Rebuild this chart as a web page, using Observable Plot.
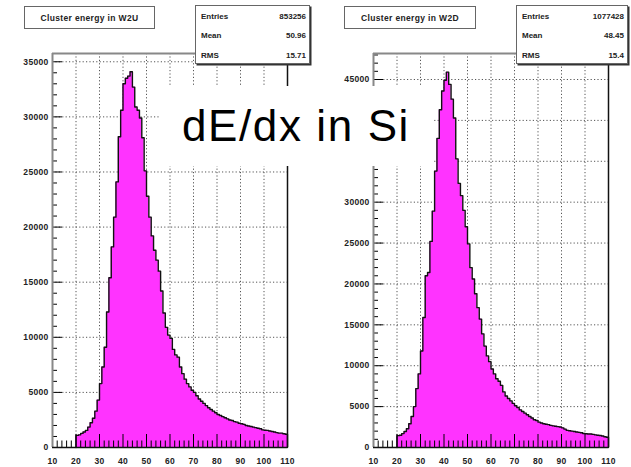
<!DOCTYPE html>
<html><head><meta charset="utf-8">
<script src="https://cdn.jsdelivr.net/npm/d3@7"></script>
<script src="https://cdn.jsdelivr.net/npm/@observablehq/plot@0.6"></script>
<style>
body{margin:0;background:#fff;}
#wrap{position:relative;width:631px;height:467px;overflow:hidden;font-family:"Liberation Sans",Arial,Helvetica,sans-serif;}
.panel{position:absolute;top:0;}
.tbox{position:absolute;background:#fff;border:1.5px solid #666;box-sizing:border-box;font-weight:bold;font-size:8.5px;color:#222;display:flex;align-items:center;justify-content:center;letter-spacing:.35px;}
.sbox{position:absolute;background:#fff;border:1px solid #666;box-sizing:border-box;box-shadow:1.5px 1.5px 0 #333;font-weight:bold;font-size:8px;color:#222;}
.sbox .row{position:absolute;left:5px;right:3px;height:10px;line-height:10px;display:flex;justify-content:space-between;}
#big{position:absolute;left:160px;top:86px;width:272px;height:80px;background:#fff;font-size:44px;letter-spacing:1.6px;line-height:80px;text-align:center;color:#000;white-space:nowrap;}
</style>
</head><body>
<div id="wrap">
  <div class="panel" id="p1" style="left:0"></div>
  <div class="panel" id="p2" style="left:315px"></div>
  <div class="tbox" style="left:24px;top:6px;width:131px;height:23px;">Cluster energy in W2U</div>
  <div class="sbox" style="left:195px;top:5px;width:115px;height:59px;">
    <div class="row" style="top:6px"><span>Entries</span><span>853256</span></div>
    <div class="row" style="top:25px"><span>Mean</span><span>50.96</span></div>
    <div class="row" style="top:45px"><span>RMS</span><span>15.71</span></div>
  </div>
  <div class="tbox" style="left:344px;top:6px;width:132px;height:23px;">Cluster energy in W2D</div>
  <div class="sbox" style="left:516px;top:5px;width:112px;height:59px;">
    <div class="row" style="top:6px"><span>Entries</span><span>1077428</span></div>
    <div class="row" style="top:25px"><span>Mean</span><span>48.45</span></div>
    <div class="row" style="top:45px"><span>RMS</span><span>15.4</span></div>
  </div>
  <div id="big">dE/dx in Si</div>
</div>
<script>
// bin lower edges 20..109 (width 1)
const binLow = d3.range(20, 110);
const w2uCounts = [
  1100,1150,1280,1400,1550,1850,2250,2650,3300,4300,
  5800,7300,9100,12300,15400,18200,20900,24100,28200,30600,
  33000,33500,33700,34100,32700,30900,30600,29900,28100,25100,
  22800,20900,19200,17900,17000,16000,14200,12200,10900,10200,
  9900,8900,8400,8200,7300,6700,6200,5800,5500,5200,
  5000,4700,4400,4200,4000,3800,3600,3450,3300,3150,
  3000,2900,2800,2700,2600,2500,2450,2350,2300,2200,
  2150,2100,2000,1950,1900,1850,1800,1750,1700,1600,
  1560,1550,1500,1450,1400,1350,1300,1300,1250,1200
];
const w2dCounts = [
  1450,1500,1700,1950,2300,2900,3800,5000,7200,9000,
  11800,15900,21000,21400,25200,28900,33800,37800,41300,43600,
  44900,45900,44400,42600,40300,35300,32300,30800,29000,27000,
  24900,22000,20600,18800,17100,15700,13900,12400,11200,10500,
  9600,9000,8400,8100,7600,6800,6300,6000,5700,5400,
  5100,4900,4600,4400,4200,4000,3800,3600,3400,3300,
  3100,3000,2900,2850,2800,2700,2650,2600,2550,2500,
  2400,2250,2100,2050,2000,1950,1900,1850,1800,1720,
  1680,1660,1650,1600,1550,1500,1460,1400,1320,1260
];
const xMajor = [10,20,30,40,50,60,70,80,90,100,110];
const xMinor = [12,14,16,18,22,24,26,28,32,34,36,38,42,44,46,48,52,54,56,58,62,64,66,68,72,74,76,78,82,84,86,88,92,94,96,98,102,104,106,108];
const xGrid = [20,30,40,50,60,70,80,90,100];
const leftYMajor = [0,5000,10000,15000,20000,25000,30000,35000];
const rightYMajor = [0,5000,10000,15000,20000,25000,30000,35000,40000,45000];
// labels visible in the reference (35000 and 40000 on the right are hidden behind the title box)
const leftYLabels = [0,5000,10000,15000,20000,25000,30000,35000];
const rightYLabels = [0,5000,10000,15000,20000,25000,30000,45000];
const leftYMax = 35750, rightYMax = 48180;

function panel(counts, yMax, yMajor, yLabels, width, marginLeft, marginRight) {
  const pts = [{x: 20, y: 0}];
  binLow.forEach((b, i) => pts.push({x: b, y: counts[i]}));
  pts.push({x: 110, y: counts[counts.length - 1]});
  pts.push({x: 110, y: 0});
  const yMinor = d3.range(0, yMax, 1000).filter(v => v % 5000 !== 0);
  const yGrid = yMajor.filter(v => v > 0);
  return Plot.plot({
    width, height: 467, marginLeft, marginRight, marginTop: 53, marginBottom: 20,
    x: {domain: [10, 110]},
    y: {domain: [0, yMax]},
    style: "font: bold 8.5px 'Liberation Sans', Arial, sans-serif; letter-spacing: .3px; background: transparent; overflow: visible; color:#222",
    marks: [
      Plot.ruleX(xGrid, {stroke: "#555", strokeDasharray: "1.2,2.2", strokeWidth: 1}),
      Plot.ruleY(yGrid, {stroke: "#555", strokeDasharray: "1.2,2.2", strokeWidth: 1}),
      Plot.areaY(pts, {x: "x", y: "y", curve: "step-after", fill: "#ff33ff"}),
      Plot.line(pts, {x: "x", y: "y", curve: "step-after", stroke: "#111", strokeWidth: 1.4}),
      Plot.axisX({ticks: xMinor, tickSize: -6.5, tickFormat: () => "", label: null, stroke: "#000"}),
      Plot.axisX({ticks: xMajor, tickSize: -13, tickFormat: () => "", label: null, stroke: "#000"}),
      Plot.axisX({ticks: xMajor, tickSize: 0, tickPadding: 10, tickFormat: d => String(d), label: null}),
      Plot.axisY({ticks: yMinor, tickSize: -5, tickFormat: () => "", label: null, stroke: "#000"}),
      Plot.axisY({ticks: yMajor, tickSize: -10, tickFormat: () => "", label: null, stroke: "#000"}),
      Plot.axisY({ticks: yLabels, tickSize: 0, tickPadding: 4, tickFormat: d => String(d), label: null}),
      Plot.ruleX([10], {stroke: "#888", strokeWidth: 2}),
      Plot.ruleY([yMax], {stroke: "#888", strokeWidth: 2}),
      Plot.ruleX([110], {stroke: "#111", strokeWidth: 1.5}),
      Plot.ruleY([0], {stroke: "#111", strokeWidth: 1.5})
    ]
  });
}
document.getElementById("p1").appendChild(panel(w2uCounts, leftYMax, leftYMajor, leftYLabels, 315, 52, 28));
document.getElementById("p2").appendChild(panel(w2dCounts, rightYMax, rightYMajor, rightYLabels, 316, 58, 23));
</script>
</body></html>
